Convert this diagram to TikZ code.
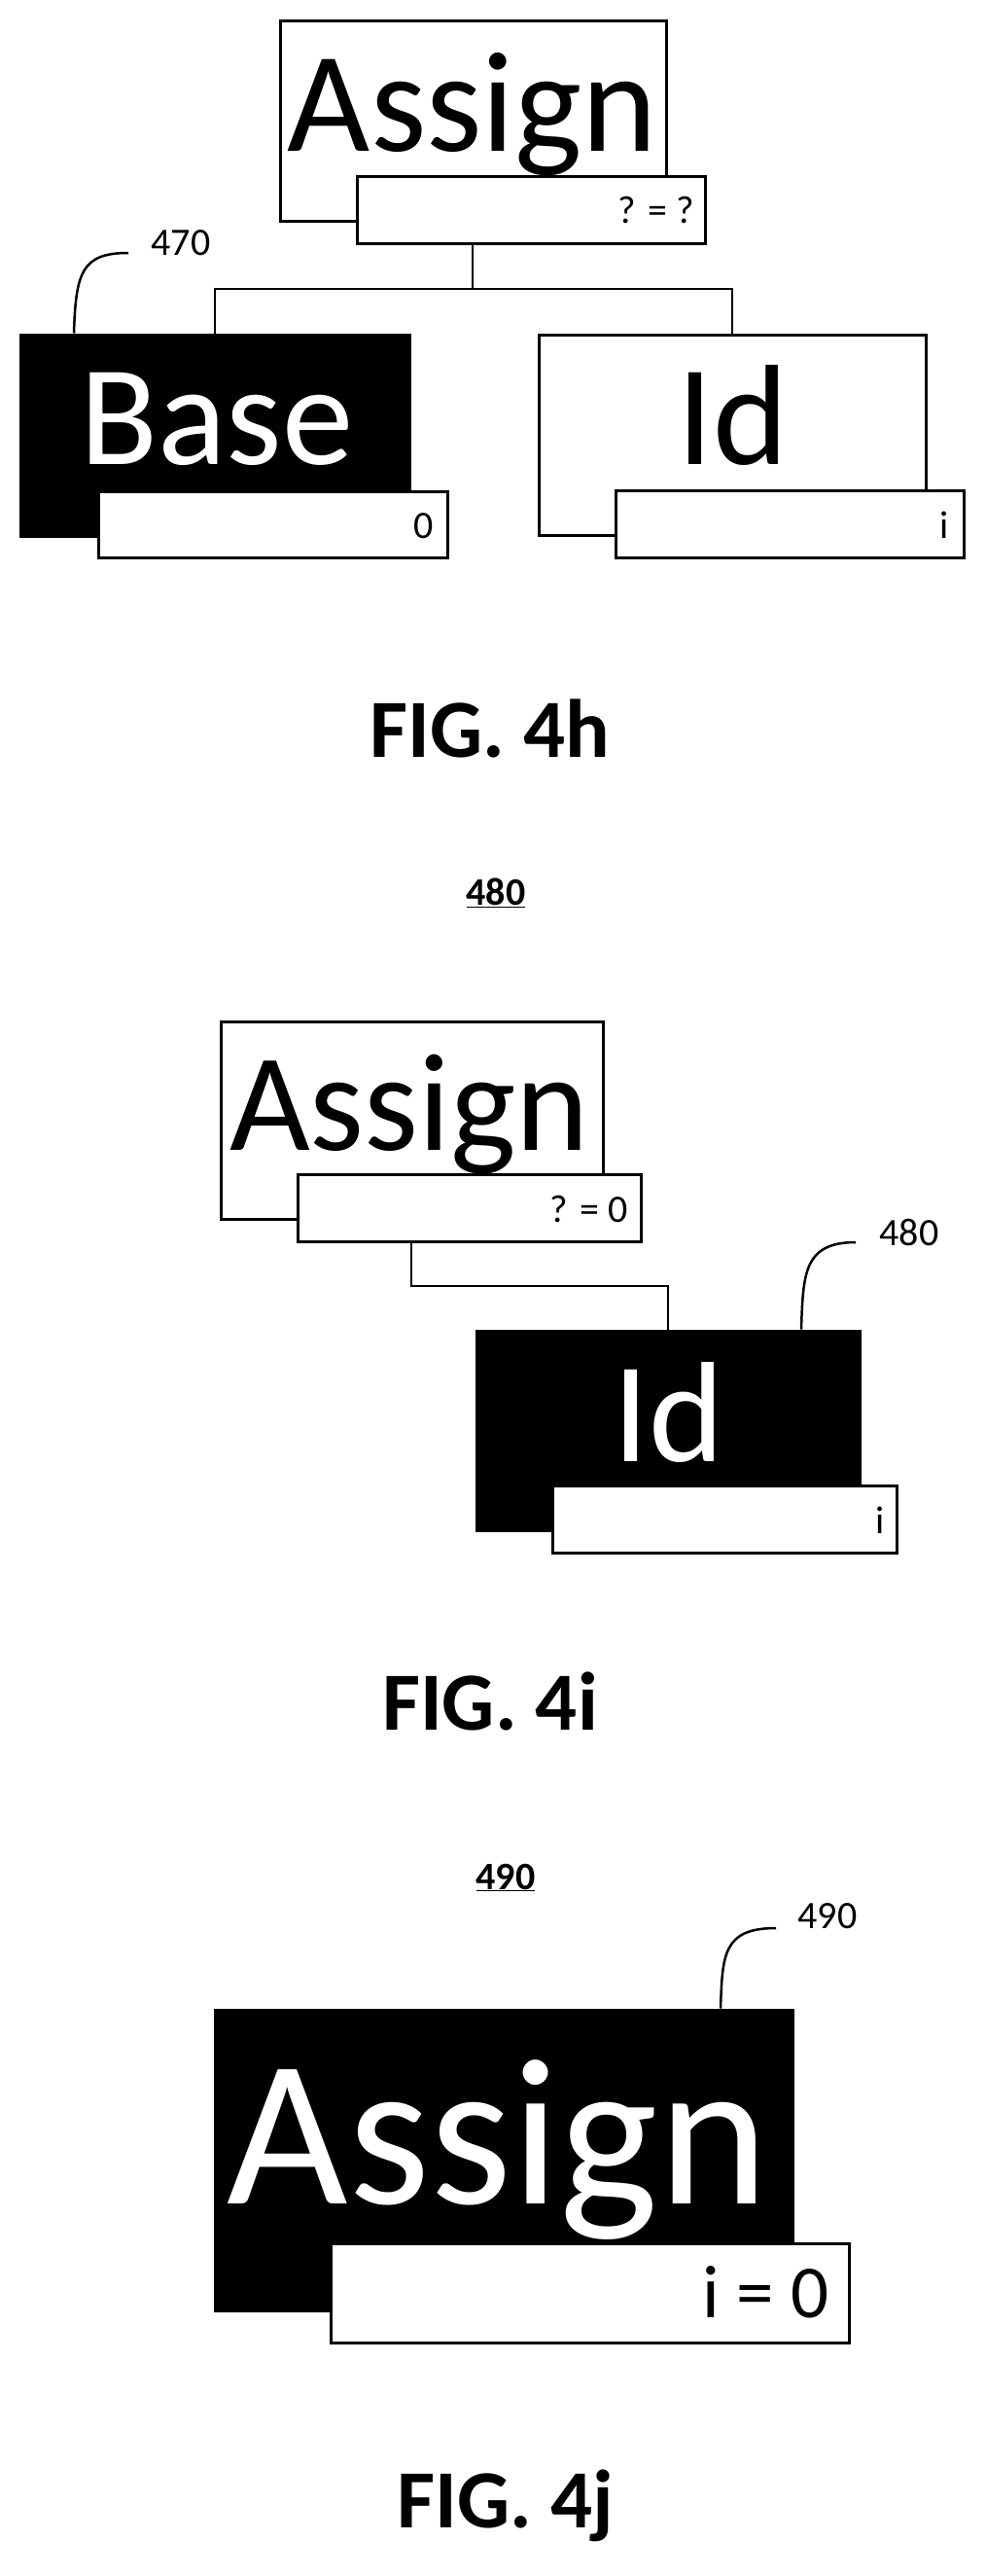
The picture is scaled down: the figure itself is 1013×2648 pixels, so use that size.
\documentclass[tikz,border=0pt]{standalone}
\usepackage{fontspec}
\setmainfont{Carlito}
\begin{document}
\begin{tikzpicture}[x=1pt,y=-1pt,
  wbox/.style={draw=black,line width=3pt,fill=white,inner sep=0pt},
  bbox/.style={draw=black,line width=3pt,fill=black,inner sep=0pt},
  big/.style={inner sep=0pt,anchor=base,font=\fontsize{147}{147}\selectfont},
  lab/.style={inner sep=0pt,anchor=base east,font=\fontsize{40}{40}\selectfont},
  ref/.style={inner sep=0pt,anchor=center,font=\fontsize{40}{40}\selectfont},
  fig/.style={inner sep=0pt,anchor=base,font=\fontsize{85}{85}\selectfont\bfseries},
  conn/.style={line width=2.5pt},
  lead/.style={line width=2.5pt}]
\useasboundingbox (0,0) rectangle (1013,2648);
% ---------- FIG 4h
\node[wbox,minimum width=397pt,minimum height=206pt] (ha) at (486.5,124) {};
\node[wbox,minimum width=358pt,minimum height=69pt] (hal) at (546,215.5) {};
\node[big] (hat) at (486,155) {Assign};
\node[lab] (halt) at (714,229) {? = ?};
\node[bbox,minimum width=400pt,minimum height=207pt] (hb) at (221,447.5) {};
\node[wbox,minimum width=359pt,minimum height=68pt] (hbl) at (280.5,539) {};
\node[big,text=white] (hbt) at (223,477) {Base};
\node[lab] (hblt) at (446,553) {0};
\node[wbox,minimum width=398pt,minimum height=206pt] (hi) at (753,447) {};
\node[wbox,minimum width=358pt,minimum height=69pt] (hil) at (812,538.5) {};
\node[big] (hit) at (754,477) {Id};
\node[lab] (hilt) at (976,553) {i};
\coordinate (hc) at (486,297);
\draw[conn] (hal.south -| hc) -- (hc) -| (hb.north -| 221,0);
\draw[conn] (hc) -| (hi.north -| 753,0);
\node[ref] (h470) at (186,250) {470};
\coordinate (h470e) at (132,260);
\draw[lead] (hb.north -| 76,0) .. controls (78,280) and (84,260) .. (h470e);
\node[fig] (h4) at (504,778) {FIG. 4h};
% ---------- FIG 4i
\node[ref,font=\fontsize{40}{40}\selectfont\bfseries] (i480u) at (510,918) {\underline{480}};
\node[wbox,minimum width=393pt,minimum height=203pt] (ia) at (423.5,1151.5) {};
\node[wbox,minimum width=353pt,minimum height=69pt] (ial) at (482.5,1241.5) {};
\node[big,font=\fontsize{143}{143}\selectfont] (iat) at (421,1182) {Assign};
\node[lab] (ialt) at (646,1256) {? = 0};
\node[bbox,minimum width=394pt,minimum height=205pt] (ii) at (687,1470.5) {};
\node[wbox,minimum width=354pt,minimum height=69pt] (iil) at (745,1561.5) {};
\node[big,text=white] (iit) at (688,1502) {Id};
\node[lab] (iilt) at (910,1576) {i};
\coordinate (ic) at (423,1322);
\draw[conn] (ial.south -| ic) -- (ic) -| (ii.north -| 687,0);
\node[ref] (i480) at (935,1267) {480};
\coordinate (i480e) at (880,1277);
\draw[lead] (ii.north -| 824,0) .. controls (826,1310) and (826,1277) .. (i480e);
\node[fig] (i4) at (504,1778) {FIG. 4i};
% ---------- FIG 4j
\node[ref,font=\fontsize{40}{40}\selectfont\bfseries] (j490u) at (520,1930) {\underline{490}};
\node[bbox,minimum width=594pt,minimum height=309pt] (ja) at (518,2220.5) {};
\node[wbox,minimum width=533pt,minimum height=102pt] (jal) at (606.5,2357) {};
\node[big,text=white,font=\fontsize{215}{215}\selectfont] (jat) at (512,2265) {Assign};
\node[lab,font=\fontsize{77}{77}\selectfont] (jalt) at (853,2382) {i = 0};
\node[ref] (j490) at (851,1970) {490};
\coordinate (j490e) at (798,1982);
\draw[lead] (ja.north -| 741,0) .. controls (743,2010) and (743,1982) .. (j490e);
\node[fig] (j4) at (520,2598) {FIG. 4j};
\end{tikzpicture}
\end{document}
